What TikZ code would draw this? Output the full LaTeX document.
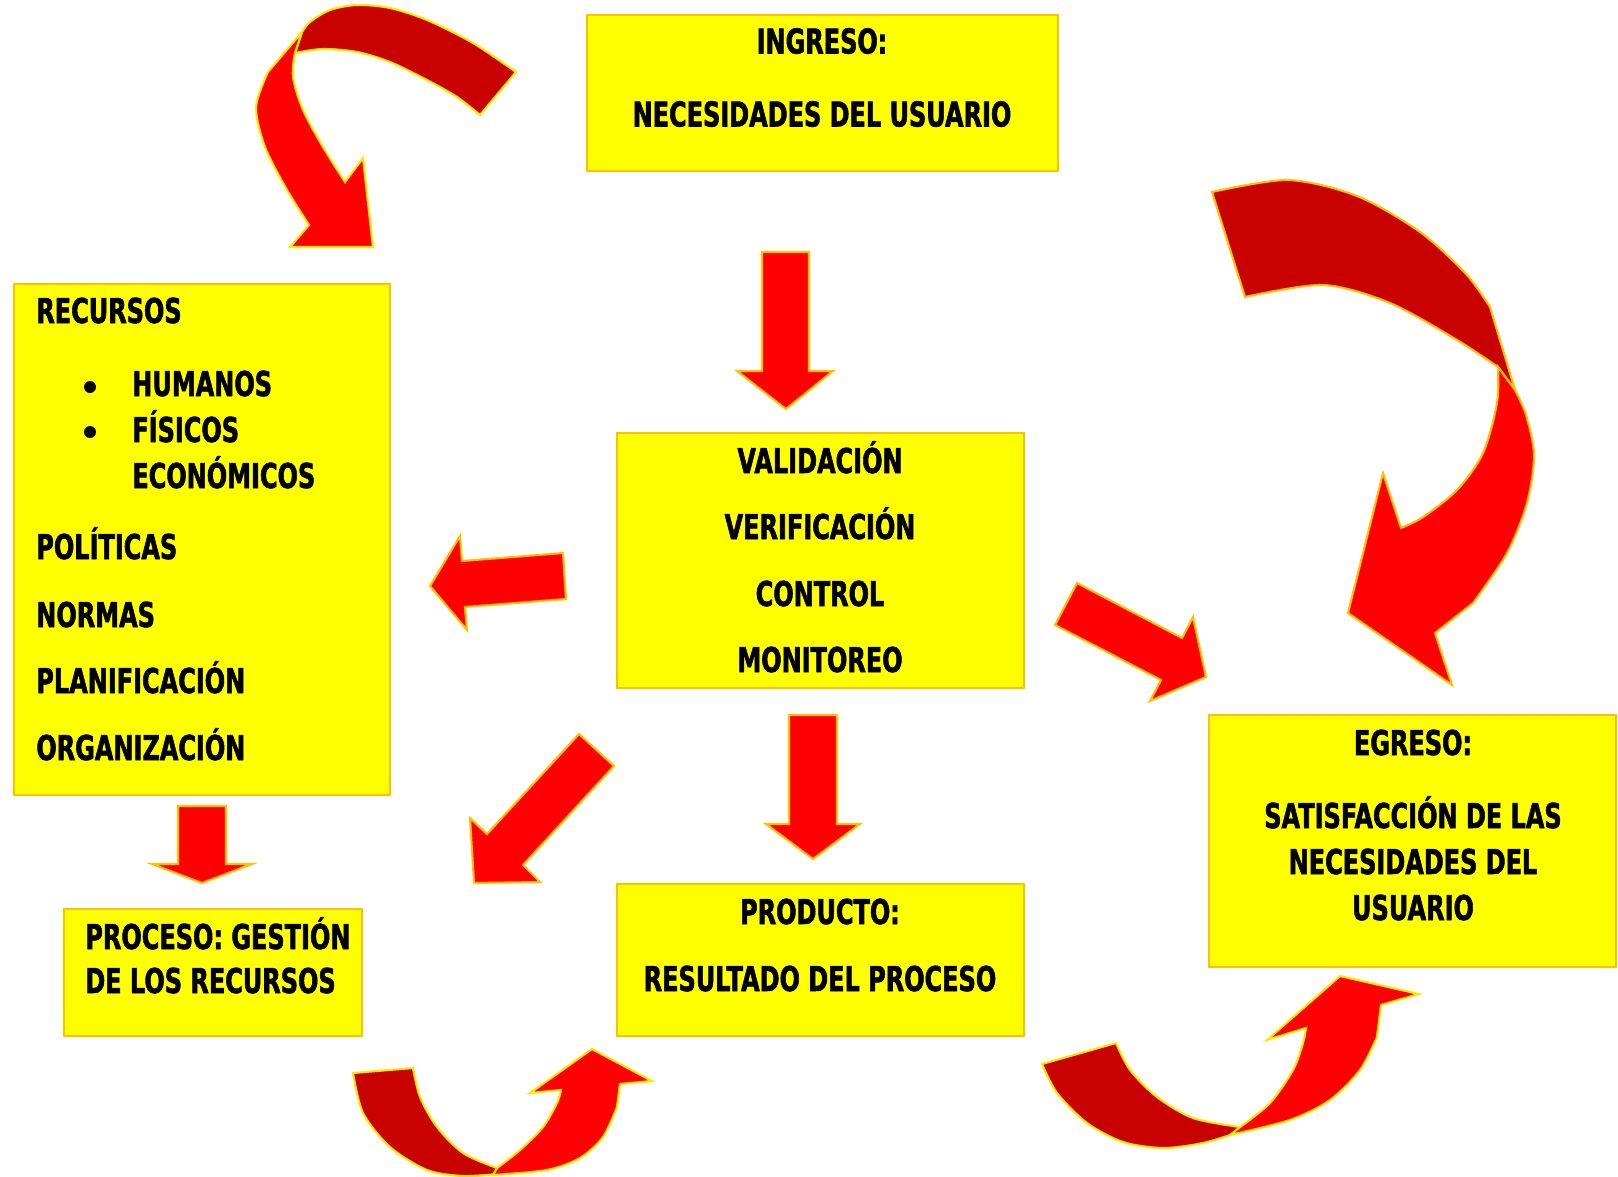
\documentclass[tikz,border=0pt]{standalone}
\usepackage{fontspec}
\newfontfamily\boxfont{DejaVu Sans}[FakeStretch=0.70, FakeBold=1.6]
\definecolor{boxfill}{HTML}{FFFF00}
\definecolor{boxline}{HTML}{FFC000}
\definecolor{arrred}{HTML}{FF0000}
\definecolor{arrdark}{HTML}{C80000}
\definecolor{arrline}{HTML}{FFC000}
\definecolor{curveline}{HTML}{FFE800}

\begin{document}
\begin{tikzpicture}[x=0.02cm, y=-0.02cm,
  box/.style={draw=boxline, fill=boxfill, line width=1.1pt, inner sep=0pt},
  txt/.style={font=\boxfont\bfseries\fontsize{19.5}{24}\selectfont, inner sep=0pt, anchor=base},
  blockarrow/.style={fill=arrred, draw=arrline, line width=1.2pt, line join=miter},
  front/.style={fill=arrred, draw=curveline, line width=1.2pt},
  back/.style={fill=arrdark, draw=curveline, line width=1.2pt}]
\useasboundingbox (0,0) rectangle (1618,1176);

% boxes
\node[box, minimum width=9.42cm, minimum height=3.12cm] (ingreso) at (822.5, 93) {};
\node[box, minimum width=7.52cm, minimum height=10.22cm] (recursos) at (202, 539.5) {};
\node[box, minimum width=8.14cm, minimum height=5.10cm] (control) at (820.5, 560.5) {};
\node[box, minimum width=5.96cm, minimum height=2.54cm] (proceso) at (213, 972.5) {};
\node[box, minimum width=8.14cm, minimum height=3.04cm] (producto) at (820.5, 960) {};
\node[box, minimum width=8.14cm, minimum height=5.04cm] (egreso) at (1412.5, 841) {};

% texts
\node[txt] (t1) at (822, 53.5) {INGRESO:};
\node[txt] (t2) at (822, 126.5) {NECESIDADES DEL USUARIO};

\node[txt, anchor=base west] (r1) at (36, 323) {RECURSOS};
\node[txt, anchor=base west] (r2) at (132, 396) {HUMANOS};
\node[txt, anchor=base west] (r3) at (132, 442) {FÍSICOS};
\node[txt, anchor=base west] (r4) at (132, 488) {ECONÓMICOS};
\node[txt, anchor=base west] (r5) at (36, 559) {POLÍTICAS};
\node[txt, anchor=base west] (r6) at (36, 627) {NORMAS};
\node[txt, anchor=base west] (r7) at (36, 693) {PLANIFICACIÓN};
\node[txt, anchor=base west] (r8) at (36, 760) {ORGANIZACIÓN};
\fill (90,387) circle (0.12cm);
\fill (90,432) circle (0.12cm);

\node[txt] (v1) at (820, 473) {VALIDACIÓN};
\node[txt] (v2) at (820, 539) {VERIFICACIÓN};
\node[txt] (v3) at (820, 606) {CONTROL};
\node[txt] (v4) at (820, 672) {MONITOREO};

\node[txt, anchor=base west] (p1) at (85, 949) {PROCESO: GESTIÓN};
\node[txt, anchor=base west] (p2) at (85, 993) {DE LOS RECURSOS};

\node[txt] (d1) at (820, 924) {PRODUCTO:};
\node[txt] (d2) at (820, 991) {RESULTADO DEL PROCESO};

\node[txt] (e1) at (1413, 755) {EGRESO:};
\node[txt] (e2) at (1413, 828) {SATISFACCIÓN DE LAS};
\node[txt] (e3) at (1413, 874) {NECESIDADES DEL};
\node[txt] (e4) at (1413, 920) {USUARIO};

% straight arrows
\draw[blockarrow] (762,252) -- (809,252) -- (809,371) -- (833,371) -- (786,409)
  -- (737,371) -- (762,371) -- cycle;
\draw[blockarrow] (789,715) -- (837,715) -- (837,824) -- (860,824) -- (813,859)
  -- (766,824) -- (789,824) -- cycle;
\draw[blockarrow] (178,806) -- (226,806) -- (226,864) -- (252,864) -- (202,883)
  -- (152,864) -- (178,864) -- cycle;
\draw[blockarrow] (563,553) -- (566,599) -- (465,607) -- (467,630) -- (430,586)
  -- (460,536) -- (462,561) -- cycle;
\draw[blockarrow] (1077,583) -- (1182,638) -- (1193,617) -- (1206,677) -- (1150,701)
  -- (1161,680) -- (1055,625) -- cycle;
\draw[blockarrow] (579,734) -- (614,766) -- (523,865) -- (540,882) -- (474,883)
  -- (470,818) -- (487,834) -- cycle;

% curved arrow, top left
\draw[back] plot[smooth] coordinates {(516,72) (473,43) (427,20) (390,8) (357,5) (330,10) (310,22) (302,32)}
  -- plot[smooth] coordinates {(295,53) (323,49) (357,52) (390,62) (427,80) (457,97) (480,115)} -- cycle;
\draw[front] (302,32) -- plot[smooth] coordinates {(268,72) (256,107) (265,147) (287,190) (309,225)}
  -- (290,247) -- (373,247) -- (363,158)
  -- plot[smooth] coordinates {(345,182) (323,147) (303,110) (293,77) (295,53)} -- cycle;

% curved arrow, right
\draw[back, draw=arrline] plot[smooth] coordinates {(1212,192) (1288,180) (1357,196) (1420,232) (1466,274) (1490,307)}
  -- (1515,390)
  -- plot[smooth] coordinates {(1498,367) (1457,340) (1390,303) (1323,285) (1245,297)} -- cycle;
\draw[front, draw=arrline] plot[smooth] coordinates {(1498,367) (1497,403) (1483,453) (1457,490) (1423,517) (1401,528)}
  -- (1383,473) -- (1348,613) -- (1452,685) -- (1435,633)
  -- plot[smooth] coordinates {(1473,603) (1507,553) (1527,503) (1534,455) (1526,415) (1515,390)} -- cycle;

% curved arrow, bottom left
\draw[back] plot[smooth] coordinates {(353,1073) (363,1113) (390,1147) (427,1170) (463,1176) (497,1174)}
  -- plot[smooth] coordinates {(497,1168) (463,1153) (437,1127) (420,1097) (413,1068)} -- cycle;
\draw[front] plot[smooth] coordinates {(497,1168) (520,1150) (543,1127) (557,1103) (561,1090)}
  -- (530,1093) -- (592,1049) -- (652,1081) -- (620,1084)
  -- plot[smooth] coordinates {(617,1107) (603,1137) (580,1158) (547,1170) (493,1175)} -- cycle;

% curved arrow, bottom right
\draw[back] plot[smooth] coordinates {(1042,1064) (1057,1093) (1087,1123) (1123,1142) (1163,1148) (1203,1143) (1236,1133)}
  -- plot[smooth] coordinates {(1240,1127) (1193,1118) (1157,1097) (1130,1070) (1116,1043)} -- cycle;
\draw[front] plot[smooth] coordinates {(1240,1127) (1270,1103) (1293,1070) (1303,1043) (1306,1028)}
  -- (1267,1040) -- (1340,976) -- (1419,994) -- (1381,1005)
  -- plot[smooth] coordinates {(1377,1037) (1360,1070) (1330,1100) (1290,1120) (1230,1135)} -- cycle;
\end{tikzpicture}
\end{document}
